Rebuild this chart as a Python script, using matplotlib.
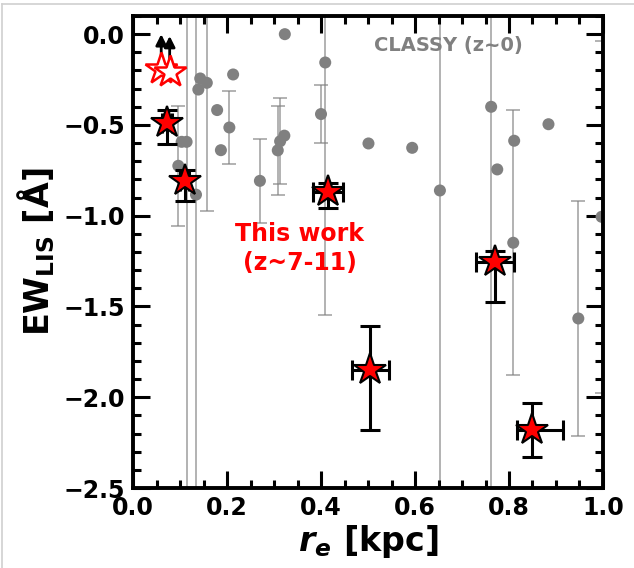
import matplotlib
matplotlib.use("Agg")
import matplotlib.pyplot as plt
from matplotlib.lines import Line2D
from matplotlib.ticker import MultipleLocator
import numpy as np

# CLASSY (z~0) points
classy_x = [0.323, 0.409, 0.400, 0.143, 0.157, 0.139, 0.213, 0.179, 0.205, 0.187,
            0.1035, 0.114, 0.0964, 0.134, 0.270, 0.308, 0.313, 0.322, 0.501, 0.594,
            0.653, 0.762, 0.775, 0.811, 0.809, 0.884, 0.9475, 0.997]
classy_y = [0.0, -0.156, -0.44, -0.244, -0.268, -0.305, -0.222, -0.418, -0.514, -0.639,
            -0.593, -0.593, -0.725, -0.884, -0.808, -0.64, -0.59, -0.559, -0.602, -0.626,
            -0.861, -0.400, -0.745, -0.587, -1.149, -0.496, -1.566, -1.006]
classy_yerr = [0.0, 1.39, 0.16, 0.0, 0.707, 0.0, 0.0, 0.0, 0.2, 0.0,
               0.0, 3.0, 0.33, 3.0, 0.23, 0.245, 0.237, 0.0, 0.0, 0.0,
               3.0, 3.0, 0.0, 0.0, 0.73, 0.0, 0.645, 0.97]

# This work (z~7-11)
tw_x = [0.072, 0.110, 0.414, 0.505, 0.770, 0.848]
tw_y = [-0.49, -0.81, -0.868, -1.85, -1.255, -2.18]
tw_yerr_lo = [0.115, 0.11, 0.09, 0.33, 0.22, 0.147]
tw_yerr_hi = [0.075, 0.06, 0.05, 0.24, 0.06, 0.146]
tw_xerr_lo = [0.01, 0.01, 0.032, 0.04, 0.04, 0.032]
tw_xerr_hi = [0.01, 0.01, 0.032, 0.04, 0.04, 0.066]

# Lower limits (open stars)
lim_x = [0.060, 0.078]
lim_y = [-0.19, -0.21]
lim_top = [0.0, -0.01]

fig = plt.figure(figsize=(6.34, 5.68), dpi=100)
ax = fig.add_axes([0.2098, 0.1408, 0.7413, 0.831])

cx = np.array(classy_x); cy = np.array(classy_y); ce = np.array(classy_yerr)
m = ce > 0
ax.errorbar(cx[m], cy[m], yerr=ce[m], fmt='none', ecolor='grey', elinewidth=1.2,
            capsize=5, capthick=1.2, alpha=0.7, zorder=1)
ax.scatter(cx, cy, s=75, color='grey', zorder=2, edgecolors='none')

ax.errorbar(tw_x, tw_y, yerr=[tw_yerr_lo, tw_yerr_hi], xerr=[tw_xerr_lo, tw_xerr_hi],
            fmt='none', ecolor='black', elinewidth=2.2, capsize=7, capthick=2.2, zorder=3)
ax.plot(tw_x, tw_y, linestyle='none', marker='*', markersize=24, markerfacecolor='red',
        markeredgecolor='black', markeredgewidth=1.5, zorder=4)

for xx, yy, yt in zip(lim_x, lim_y, lim_top):
    ax.annotate('', xy=(xx, yt), xytext=(xx, yy),
                arrowprops=dict(arrowstyle='-|>', color='black', lw=2.0,
                                mutation_scale=16, shrinkA=0, shrinkB=0), zorder=3)
ax.plot(lim_x, lim_y, linestyle='none', marker='*', markersize=24, markerfacecolor='white',
        markeredgecolor='red', markeredgewidth=1.8, zorder=4)

ax.set_xlim(0, 1.0)
ax.set_ylim(-2.5, 0.1)
ax.xaxis.set_major_locator(MultipleLocator(0.2))
ax.xaxis.set_minor_locator(MultipleLocator(0.05))
ax.yaxis.set_major_locator(MultipleLocator(0.5))
ax.yaxis.set_minor_locator(MultipleLocator(0.1))
ax.tick_params(which='both', direction='in', top=True, right=True, width=2.2)
ax.tick_params(which='major', length=12, labelsize=17, pad=6)
ax.tick_params(which='minor', length=6)
for lab in ax.get_xticklabels() + ax.get_yticklabels():
    lab.set_fontweight('bold')
for sp in ax.spines.values():
    sp.set_linewidth(2.8)

ax.set_xlabel(r'$\mathbfit{r_e}$ [kpc]', fontsize=24, fontweight='bold', labelpad=2)
ax.set_ylabel(r'EW$_{\mathbf{LIS}}$ [Å]', fontsize=24, fontweight='bold', labelpad=4)

ax.text(0.67, -0.06, 'CLASSY (z~0)', color='grey', fontsize=14, fontweight='bold',
        ha='center', va='center', zorder=5)
ax.text(0.355, -1.18, 'This work\n(z~7-11)', color='red', fontsize=17, fontweight='bold',
        ha='center', va='center', linespacing=1.3, zorder=5)

fig.add_artist(Line2D([0.003, 0.003], [0, 0.993], transform=fig.transFigure,
                      color='#d0d0d0', lw=1.2))
fig.add_artist(Line2D([0.003, 1.0], [0.993, 0.993], transform=fig.transFigure,
                      color='#d0d0d0', lw=1.2))

fig.savefig('out.png', dpi=100)
